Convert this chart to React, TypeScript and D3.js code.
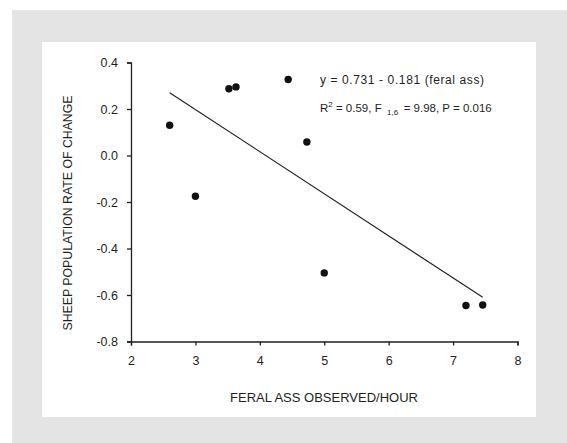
import { useEffect, useRef } from "react";
import * as d3 from "d3";

// values
const feralAss = [2.6, 3.0, 3.52, 3.63, 4.44, 4.73, 5.0, 7.2, 7.46];
const sheepChange = [0.13, -0.175, 0.287, 0.295, 0.327, 0.058, -0.505, -0.645, -0.643];
const fitX = [2.6, 7.46];
const fitY = [0.27, -0.61];
const xTicks = [2, 3, 4, 5, 6, 7, 8];
const yTicks = [-0.8, -0.6, -0.4, -0.2, 0.0, 0.2, 0.4];

const W = 567;
const H = 443;
const FONT = "'Liberation Sans', Arial, sans-serif";
const INK = "#231f20";

export default function App() {
    const svgRef = useRef<SVGSVGElement | null>(null);

    useEffect(() => {
        const svg = d3.select(svgRef.current);
        svg.selectAll("*").remove();

        // grey page + white panel
        svg.append("rect").attr("x", 12).attr("y", 10).attr("width", W - 12).attr("height", H - 10).attr("fill", "#e4e4e4");
        svg.append("rect").attr("x", 42).attr("y", 42).attr("width", 494).attr("height", 375).attr("fill", "#fff");

        const x = d3.scaleLinear().domain([2, 8]).range([131, 517.5]);
        const y = d3.scaleLinear().domain([-0.8, 0.4]).range([341.5, 62.5]);

        const xAxis = svg.append("g")
            .attr("transform", `translate(0,${y(-0.8)})`)
            .call(d3.axisBottom(x).tickValues(xTicks).tickSize(4).tickSizeOuter(4).tickPadding(11).tickFormat((d: any) => String(d)));
        const yAxis = svg.append("g")
            .attr("transform", `translate(${x(2)},0)`)
            .call(d3.axisLeft(y).tickValues(yTicks).tickSize(4).tickSizeOuter(4).tickPadding(9).tickFormat((d: any) => (+d).toFixed(1)));

        [xAxis, yAxis].forEach(a => {
            a.selectAll("path, line").attr("stroke", INK).attr("stroke-width", 1.3);
            a.selectAll("text").attr("fill", INK).style("font-family", FONT).style("font-size", "12.5px");
        });

        // regression line
        const line = d3.line<number>()
            .x((_, i) => x(fitX[i]))
            .y((d) => y(d));
        svg.append("path")
            .datum(fitY)
            .attr("fill", "none")
            .attr("stroke", INK)
            .attr("stroke-width", 1.2)
            .attr("d", line);

        svg.append("g")
            .selectAll("circle")
            .data(feralAss)
            .join("circle")
            .attr("cx", (d) => x(d))
            .attr("cy", (_, i) => y(sheepChange[i]))
            .attr("r", 3.7)
            .attr("fill", "#111");

        // axis titles
        svg.append("text")
            .attr("x", 324)
            .attr("y", 402)
            .attr("text-anchor", "middle")
            .attr("fill", INK)
            .style("font-family", FONT)
            .style("font-size", "13px")
            .text("FERAL ASS OBSERVED/HOUR");
        svg.append("text")
            .attr("transform", `translate(72,213) rotate(-90)`)
            .attr("text-anchor", "middle")
            .attr("fill", INK)
            .style("font-family", FONT)
            .style("font-size", "12.3px")
            .text("SHEEP POPULATION RATE OF CHANGE");

        // equation
        svg.append("text")
            .attr("x", 320)
            .attr("y", 84)
            .attr("fill", INK)
            .attr("textLength", 164)
            .attr("lengthAdjust", "spacing")
            .style("font-family", FONT)
            .style("font-size", "12px")
            .text("y = 0.731 - 0.181 (feral ass)");

        const stats = svg.append("text")
            .attr("x", 320)
            .attr("y", 112)
            .attr("fill", INK)
            .style("font-family", FONT)
            .style("font-size", "11.5px");
        stats.append("tspan").text("R");
        stats.append("tspan").attr("dy", -5).style("font-size", "8px").text("2");
        stats.append("tspan").attr("dy", 5).text(" = 0.59, F\u00a0");
        stats.append("tspan").attr("dy", 3).style("font-size", "8px").text("\u00a01,6\u00a0");
        stats.append("tspan").attr("dy", -3).text("\u00a0= 9.98, P = 0.016");
    }, []);

    return (
        <div style={{ position: "absolute", left: 0, top: 0 }}>
            <svg ref={svgRef} width={W} height={H} style={{ display: "block" }} />
        </div>
    );
}
